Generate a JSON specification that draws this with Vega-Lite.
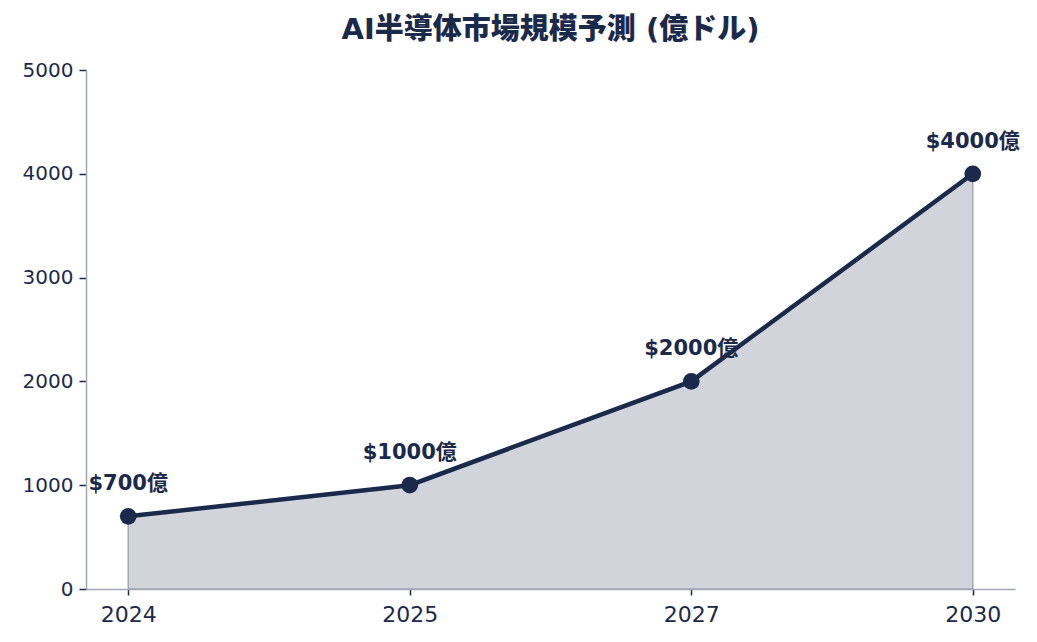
{
  "$schema": "https://vega.github.io/schema/vega-lite/v6.json",
  "autosize": {"type": "none"},
  "padding": {"left": 86, "top": 70, "right": 22, "bottom": 53},
  "width": 929,
  "height": 519,
  "title": {
    "text": "AI半導体市場規模予測 (億ドル)",
    "font": "DejaVu Sans, Noto Sans CJK JP",
    "fontSize": 29,
    "fontWeight": 900,
    "color": "#1b2a4a",
    "offset": 15
  },
  "config": {
    "view": {"stroke": null},
    "font": "DejaVu Sans, Noto Sans CJK JP",
    "axis": {
      "domainColor": "#a3a9b3",
      "domainWidth": 1.5,
      "tickColor": "#1b2a4a",
      "tickWidth": 1.5,
      "labelColor": "#1b2a4a",
      "labelFont": "DejaVu Sans",
      "grid": false,
      "title": null
    }
  },
  "data": {
    "values": [
      {"year": "2024", "value": 700, "label": "$700億"},
      {"year": "2025", "value": 1000, "label": "$1000億"},
      {"year": "2027", "value": 2000, "label": "$2000億"},
      {"year": "2030", "value": 4000, "label": "$4000億"}
    ]
  },
  "encoding": {
    "x": {
      "field": "year",
      "type": "ordinal",
      "scale": {"type": "point", "padding": 0.15},
      "axis": {"labelAngle": 0, "labelFontSize": 22, "tickSize": 6, "labelPadding": 9}
    },
    "y": {
      "field": "value",
      "type": "quantitative",
      "scale": {"domain": [0, 5000]},
      "axis": {"values": [0, 1000, 2000, 3000, 4000, 5000], "format": "d", "labelFontSize": 20, "tickSize": 7, "labelPadding": 6}
    }
  },
  "layer": [
    {
      "mark": {"type": "area", "color": "#1b2a4a", "fillOpacity": 0.2, "stroke": "#a3a9b3", "strokeWidth": 1.5}
    },
    {
      "mark": {"type": "line", "color": "#1b2a4a", "strokeWidth": 4.5}
    },
    {
      "mark": {"type": "point", "filled": true, "color": "#1b2a4a", "size": 280, "opacity": 1}
    },
    {
      "mark": {"type": "text", "dy": -32, "fontSize": 21, "fontWeight": "bold", "color": "#1b2a4a"},
      "encoding": {"text": {"field": "label"}}
    }
  ]
}
